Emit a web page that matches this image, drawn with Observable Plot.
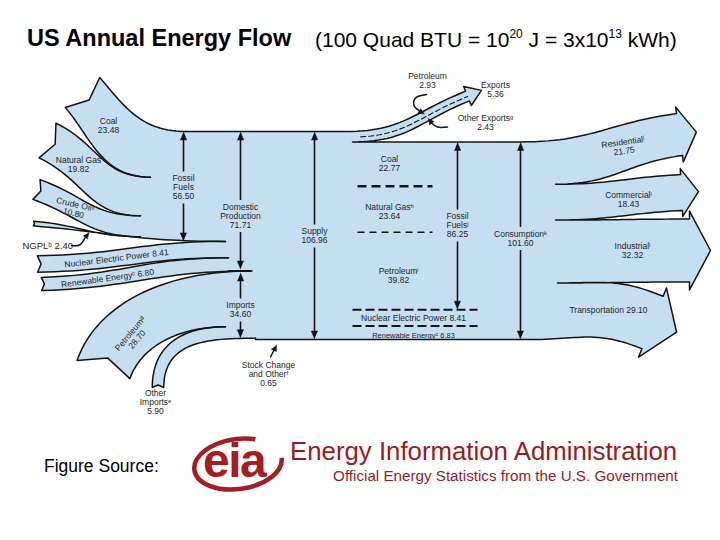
<!DOCTYPE html>
<html><head><meta charset="utf-8"><title>US Annual Energy Flow</title>
<script src="https://cdn.jsdelivr.net/npm/d3@7"></script>
<script src="https://cdn.jsdelivr.net/npm/@observablehq/plot@0.6"></script>
<style>
html,body{margin:0;padding:0;background:#fff;}
#page{position:relative;width:720px;height:540px;overflow:hidden;font-family:"Liberation Sans",Arial,sans-serif;color:#000;}
.abs{position:absolute;white-space:nowrap;line-height:1;}
#t1{left:27px;top:27px;font-size:23.5px;font-weight:bold;}
#t2{left:315px;top:29px;font-size:21px;}
#t2 sup{font-size:12px;vertical-align:0;position:relative;top:-9px;}
#chart{position:absolute;left:0;top:60px;width:720px;height:380px;}
#src{left:44px;top:458px;font-size:17.5px;}
#eia1{left:290px;top:439px;font-size:25.8px;color:#9c1a1f;}
#eia2{right:42px;top:468px;font-size:15.2px;color:#9c1a1f;}
#eiatxt{left:203px;top:437px;font-size:48px;font-weight:bold;color:#a51c22;letter-spacing:-1.5px;}
</style></head>
<body>
<div id="page">
  <div class="abs" id="t1">US Annual Energy Flow</div>
  <div class="abs" id="t2">(100 Quad BTU = 10<sup>20</sup> J = 3x10<sup>13</sup> kWh)</div>
  <div id="chart"></div>
  <div class="abs" id="src">Figure Source:</div>
  <svg class="abs" style="left:188px;top:432px" width="100" height="64">
    <ellipse cx="50" cy="32" rx="44" ry="25" fill="none" stroke="#a51c22" stroke-width="4.5" stroke-dasharray="186 60" transform="rotate(-8 50 32)"/>
  </svg>
  <div class="abs" id="eiatxt">eia</div>
  <div class="abs" id="eia1">Energy Information Administration</div>
  <div class="abs" id="eia2">Official Energy Statistics from the U.S. Government</div>
</div>
<script>
// ---------------- data (quadrillion BTU) ----------------
const inputNames  = ["Coal", "Natural Gas", "Crude Oilᵃ", "NGPLᵇ", "Nuclear Electric Power", "Renewable Energyᶜ"];
const inputValues = [23.48, 19.82, 10.80, 2.40, 8.41, 6.80];
const importNames  = ["Petroleumᵈ", "Other Importsᵉ"];
const importValues = [28.70, 5.90];
const stockName  = "Stock Change and Otherᶠ";
const stockValue = 0.65;
const exportNames  = ["Petroleum", "Other Exportsᵍ"];
const exportValues = [2.93, 2.43];
const sourceNames  = ["Coal", "Natural Gasʰ", "Petroleumⁱ", "Nuclear Electric Power", "Renewable Energyᶜ"];
const sourceValues = [22.77, 23.64, 39.82, 8.41, 6.83];
const sectorNames  = ["Residentialˡ", "Commercialˡ", "Industrialˡ", "Transportation"];
const sectorValues = [21.75, 18.43, 32.32, 29.10];
const totalNames  = ["Fossil Fuels", "Domestic Production", "Imports", "Supply", "Fossil Fuelsʲ", "Consumptionᵏ", "Exports"];
const totalValues = [56.50, 71.71, 34.60, 106.96, 86.25, 101.60, 5.36];

// ---------------- layout ----------------
const PX = 1.945;      // pixels per quad BTU (band thickness)
const TOP = 131;       // page y of the top of the supply trunk
const Y0 = 60, H = 380;
const BLUE = "#c5def0", INK = "#141414", TXT = "#262626";
const sum = a => a.reduce((s, v) => s + v, 0);
const stack = (vals, start) => vals.reduce((acc, v) => (acc.push(acc[acc.length - 1] + PX * v), acc), [start]);

const leftStack = stack([...inputValues, ...importValues, stockValue], TOP);
const BOT = TOP + PX * totalValues[3];
const TOP2 = TOP + PX * sum(exportValues);
const rightStack = stack(sectorValues, TOP2);
const srcStack = stack(sourceValues, TOP2);

const inTails = [
  {cx: 82, cy: 92, ang: 49, t0: 0.35},
  {cx: 47, cy: 140, ang: 26},
  {cx: 36, cy: 189, ang: 20},
  {cx: 33, cy: 223, ang: 5},
  {cx: 37, cy: 263.5, ang: -1},
  {cx: 41, cy: 283.5, ang: -2},
  {cx: 103, cy: 369, ang: -71, t0: 0.3, t1: 0.45},
  {cx: 157.5, cy: 387, ang: -90}
];
const leftJoinX = [185, 150, 140, 140, 225, 228, 250, 225, 255];
const outEnds = [
  {ex: 679, ey: 134, ang: -8, hx: 6.5, hl: 17},
  {ex: 681, ey: 192, ang: -3, hx: 6, hl: 17},
  {ex: 689, ey: 250, ang: 0, hx: 8, hl: 21},
  {ex: 652, ey: 322, ang: 22, hx: 9, hl: 26}
];
const rightStartX = [520, 555, 555, 557, 530];
const exportEnd = {ex: 467, ey: 95.5, ang: -22, hx: 5, hl: 15};
const XF = 262, XR = 500;

// ---------------- geometry helpers ----------------
function bez(p0, p1, p2, p3, n = 28) {
  const pts = [];
  for (let i = 0; i <= n; i++) {
    const t = i / n, u = 1 - t;
    const a = u*u*u, b = 3*u*u*t, c = 3*u*t*t, d = t*t*t;
    pts.push([a*p0[0] + b*p1[0] + c*p2[0] + d*p3[0], a*p0[1] + b*p1[1] + c*p2[1] + d*p3[1]]);
  }
  return pts;
}
function yAt(pts, x) {
  for (let i = 1; i < pts.length; i++) {
    const [x0, y0] = pts[i - 1], [x1, y1] = pts[i];
    if ((x0 - x) * (x1 - x) <= 0 && x0 !== x1) return y0 + (y1 - y0) * (x - x0) / (x1 - x0);
  }
  return NaN;
}
function ribbonIn(tail, w, jTop, jBot) {
  const a = tail.ang * Math.PI / 180, d = [Math.cos(a), Math.sin(a)], n = [Math.sin(a), -Math.cos(a)];
  const T = [tail.cx + n[0]*w/2, tail.cy + n[1]*w/2], B = [tail.cx - n[0]*w/2, tail.cy - n[1]*w/2];
  const N = [tail.cx + d[0]*w*0.22, tail.cy + d[1]*w*0.22];
  const edge = (P, Q) => {
    const D = Math.hypot(Q[0] - P[0], Q[1] - P[1]);
    const l0 = D * (tail.t0 ?? 0.45), l1 = D * (tail.t1 ?? 0.45);
    return bez(P, [P[0] + d[0]*l0, P[1] + d[1]*l0], [Q[0] - l1, Q[1]], Q);
  };
  return {T, B, N, top: edge(T, jTop), bot: edge(B, jBot)};
}
function ribbonOut(end, w, sTop, sBot) {
  const a = end.ang * Math.PI / 180, d = [Math.cos(a), Math.sin(a)], n = [Math.sin(a), -Math.cos(a)];
  const at = (o) => [end.ex + n[0]*o, end.ey + n[1]*o];
  const Et = at(w/2), Eb = at(-w/2), Ht = at(w/2 + end.hx), Hb = at(-w/2 - end.hx);
  const tip = [end.ex + d[0]*end.hl, end.ey + d[1]*end.hl];
  const edge = (S, E) => {
    const l = Math.hypot(E[0] - S[0], E[1] - S[1]) * 0.45;
    return bez(S, [S[0] + l, S[1]], [E[0] - d[0]*l, E[1] - d[1]*l], E);
  };
  const top = edge(sTop, Et), bot = edge(sBot, Eb);
  return {top, bot, outline: [...top, Ht, tip, Hb, ...bot.slice().reverse()]};
}

// ---------------- build shapes ----------------
const fills = [], lines = [], blacks = [];
let gid = 0;
const add = (arr, pts) => { const id = gid++; for (const p of pts) arr.push({id, x: p[0], y: p[1]}); };

const bandVals = [...inputValues, ...importValues];
const rIn = bandVals.map((v, i) => {
  const r = ribbonIn(inTails[i], PX * v, [leftJoinX[i], leftStack[i]], [leftJoinX[i + 1], leftStack[i + 1]]);
  add(fills, [...r.top, [XF, leftStack[i]], [XF, leftStack[i + 1]], ...r.bot.slice().reverse(), r.N]);
  add(lines, [...r.top.slice().reverse(), r.N, ...r.bot]);
  return r;
});
const midAt = (r, x) => (yAt(r.top, x) + yAt(r.bot, x)) / 2;
const slopeAt = (r, x) => Math.atan2(midAt(r, x + 25) - midAt(r, x - 25), 50) * 180 / Math.PI;

// exports
const ex = ribbonOut(exportEnd, PX * sum(exportValues), [345, TOP], [352, TOP2]);
add(fills, [[340, TOP], ...ex.outline, [340, TOP2]]);
const exDash = [];
{
  const f = exportValues[0] / sum(exportValues);
  const tp = ex.top, bt = ex.bot;
  for (let i = 2; i < tp.length; i++) exDash.push([tp[i][0] + f*(bt[i][0] - tp[i][0]), tp[i][1] + f*(bt[i][1] - tp[i][1])]);
}

// sectors
const mainOutline = [[185, TOP], ...ex.outline];
sectorValues.forEach((v, i) => {
  const r = ribbonOut(outEnds[i], PX * v, [rightStartX[i], rightStack[i]], [rightStartX[i + 1], rightStack[i + 1]]);
  add(fills, [[XR, rightStack[i]], ...r.outline, [XR, rightStack[i + 1]]]);
  mainOutline.push(...r.outline);
});
mainOutline.push([255, BOT], [255, leftStack[8]]);
add(lines, mainOutline);

// trunk (covers the merge zone)
const trunk = leftJoinX.map((x, i) => [x, leftStack[i]]);
trunk.push([255, BOT], [rightStartX[4], BOT]);
for (let i = 3; i >= 0; i--) trunk.push([rightStartX[i], rightStack[i]]);
trunk.push([352, TOP2], [345, TOP]);
add(fills, trunk);

// vertical double arrows
const arrows = [
  {k: 0, x: 183, y0: TOP, y1: TOP + PX*totalValues[0], ly: 187, mode: "words"},
  {k: 1, x: 240, y0: TOP, y1: TOP + PX*totalValues[1], ly: 215.5, mode: "words", in1: 2},
  {k: 2, x: 240, y0: TOP + PX*totalValues[1], y1: TOP + PX*(totalValues[1] + totalValues[2]), ly: 309.5, mode: "two", in0: 2},
  {k: 3, x: 314, y0: TOP, y1: BOT, ly: 235.5, mode: "two"},
  {k: 4, x: 457, y0: TOP2, y1: TOP2 + PX*totalValues[4], ly: 225, mode: "words"},
  {k: 5, x: 520, y0: TOP2, y1: TOP2 + PX*totalValues[5], ly: 238, mode: "two"}
];
const fmt = v => v.toFixed(2);
const T2 = (n, v) => `${n}\n${fmt(v)}`;
const T1 = (n, v) => `${n} ${fmt(v)}`;
const TW = (n, v, brk) => {
  const w = n.split(" ");
  const ls = brk == null ? w : [w.slice(0, brk).join(" "), w.slice(brk).join(" ")];
  return [...ls, fmt(v)].join("\n");
};
const HL = 8, HW = 3.2, LH = 9;
const segs = [];
const labels = [];
function triangle(tip, dir, L = HL, W = HW) {
  const n = [-dir[1], dir[0]];
  const b = [tip[0] - dir[0]*L, tip[1] - dir[1]*L];
  return [tip, [b[0] + n[0]*W, b[1] + n[1]*W], [b[0] - n[0]*W, b[1] - n[1]*W]];
}
arrows.forEach(a => {
  const txt = a.mode === "words" ? TW(totalNames[a.k], totalValues[a.k]) : T2(totalNames[a.k], totalValues[a.k]);
  const nl = txt.split("\n").length;
  const half = nl * LH / 2 + 2.5;
  const t0 = a.y0 + (a.in0 ?? 0.5), t1 = a.y1 - (a.in1 ?? 0.5);
  segs.push({x: a.x, ya: t0 + HL - 1, yb: a.ly - half}, {x: a.x, ya: a.ly + half, yb: t1 - HL + 1});
  add(blacks, triangle([a.x, t0], [0, -1]));
  add(blacks, triangle([a.x, t1], [0, 1]));
  labels.push({x: a.x, y: a.ly, text: txt, rotate: 0});
});
const sepY = TOP + PX*totalValues[1];

// small pointer arrows
const ngplTipY = yAt(rIn[3].bot, 88.5) + 1;
const pointers = [
  {pts: [[71, 245], [79, 244.5], [85, ngplTipY + 4.5]], tip: [88.5, ngplTipY]},
  {pts: [[270, 356.5], [273.3, 350]], tip: [276, 344.5]},
  {pts: [[426, 94], [415, 97.5], [413.5, 105], [419, 110.5]], tip: [424, 113.5]},
  {pts: [[447, 126.5], [437, 126.5], [431, 122.5]], tip: [427.5, 118]}
];
const ptrLines = [];
pointers.forEach(p => {
  const id = gid++;
  p.pts.forEach(q => ptrLines.push({id, x: q[0], y: q[1]}));
  const last = p.pts[p.pts.length - 1];
  const dl = Math.hypot(p.tip[0] - last[0], p.tip[1] - last[1]);
  add(blacks, triangle(p.tip, [(p.tip[0] - last[0]) / dl, (p.tip[1] - last[1]) / dl], 6, 2.8));
});

// labels (input labels follow their band's centre line)
labels.push(
  {x: 108, y: midAt(rIn[0], 108), text: T2(inputNames[0], inputValues[0]), rotate: 0},
  {x: 78, y: midAt(rIn[1], 78) + 3, text: T2(inputNames[1], inputValues[1]), rotate: 0},
  {x: 74, y: midAt(rIn[2], 74) + 1.5, text: T2(inputNames[2], inputValues[2]), rotate: 13},
  {x: 116, y: midAt(rIn[4], 116), text: T1(inputNames[4], inputValues[4]), rotate: slopeAt(rIn[4], 116)},
  {x: 107, y: midAt(rIn[5], 107), text: T1(inputNames[5], inputValues[5]), rotate: slopeAt(rIn[5], 107)},
  {x: 133, y: 336, text: T2(importNames[0], importValues[0]), rotate: -50},
  {x: 155, y: 402, text: TW(importNames[1], importValues[1]), rotate: 0},
  {x: 268, y: 374, text: TW(stockName, stockValue, 2), rotate: 0},
  {x: 427, y: 80, text: T2(exportNames[0], exportValues[0]), rotate: 0},
  {x: 485, y: 122.5, text: T2(exportNames[1], exportValues[1]), rotate: 0},
  {x: 495, y: 89.5, text: T2(totalNames[6], totalValues[6]), rotate: 0},
  {x: 389, y: (srcStack[0] + srcStack[1]) / 2, text: T2(sourceNames[0], sourceValues[0]), rotate: 0},
  {x: 389, y: (srcStack[1] + srcStack[2]) / 2 + 2, text: T2(sourceNames[1], sourceValues[1]), rotate: 0},
  {x: 398, y: (srcStack[2] + srcStack[3]) / 2 + 5, text: T2(sourceNames[2], sourceValues[2]), rotate: 0},
  {x: 413, y: (srcStack[3] + srcStack[4]) / 2, text: T1(sourceNames[3], sourceValues[3]), rotate: 0},
  {x: 623, y: 146, text: T2(sectorNames[0], sectorValues[0]), rotate: -8},
  {x: 628, y: 199, text: T2(sectorNames[1], sectorValues[1]), rotate: 0},
  {x: 632, y: 250, text: T2(sectorNames[2], sectorValues[2]), rotate: 0},
  {x: 608, y: 310, text: T1(sectorNames[3], sectorValues[3]), rotate: 0}
);
const smallLabels = [
  {x: 413, y: (srcStack[4] + srcStack[5]) / 2 + 2.5, text: T1(sourceNames[4], sourceValues[4])}
];
const startLabels = [{x: 22, y: 245, text: T1(inputNames[3], inputValues[3])}];

const dashes = [
  {x1: 357, x2: 432, y: srcStack[1]},
  {x1: 357, x2: 432, y: srcStack[2]},
  {x1: 352, x2: 477, y: srcStack[3]},
  {x1: 352, x2: 477, y: srcStack[4]}
];

const chart = Plot.plot({
  width: 720, height: H, margin: 0,
  x: {domain: [0, 720], range: [0, 720], axis: null},
  y: {domain: [Y0, Y0 + H], range: [0, H], axis: null},
  style: {fontFamily: "'Liberation Sans', Arial, sans-serif", background: "transparent", overflow: "visible"},
  marks: [
    Plot.line(fills, {x: "x", y: "y", z: "id", fill: BLUE, stroke: "none", curve: "linear"}),
    Plot.line(lines, {x: "x", y: "y", z: "id", fill: "none", stroke: INK, strokeWidth: 1.5, curve: "linear"}),
    Plot.line(exDash, {x: d => d[0], y: d => d[1], stroke: INK, strokeWidth: 1.1, strokeDasharray: "5,3"}),
    Plot.link([dashes[0]], {x1: "x1", x2: "x2", y1: "y", y2: "y", stroke: INK, strokeWidth: 2.6, strokeDasharray: "9,5"}),
    Plot.link([dashes[1]], {x1: "x1", x2: "x2", y1: "y", y2: "y", stroke: INK, strokeWidth: 1.6, strokeDasharray: "7,5"}),
    Plot.link(dashes.slice(2), {x1: "x1", x2: "x2", y1: "y", y2: "y", stroke: INK, strokeWidth: 2, strokeDasharray: "9,4"}),
    Plot.link([{y: sepY}], {x1: () => 227, x2: () => 252, y1: "y", y2: "y", stroke: INK, strokeWidth: 1.6}),
    Plot.link(segs, {x1: "x", x2: "x", y1: "ya", y2: "yb", stroke: INK, strokeWidth: 1.6}),
    Plot.line(ptrLines, {x: "x", y: "y", z: "id", stroke: INK, strokeWidth: 1.5, curve: "catmull-rom", fill: "none"}),
    Plot.line(blacks, {x: "x", y: "y", z: "id", fill: INK, stroke: INK, strokeWidth: 0.5, curve: "linear"}),
    Plot.text(labels, {x: "x", y: "y", text: "text", rotate: "rotate", fontSize: 8.5, lineHeight: 1.06, fill: TXT}),
    Plot.text(smallLabels, {x: "x", y: "y", text: "text", fontSize: 7.5, fill: TXT}),
    Plot.text(startLabels, {x: "x", y: "y", text: "text", fontSize: 9.5, textAnchor: "start", fill: TXT})
  ]
});
document.getElementById("chart").appendChild(chart);
</script>
</body></html>
